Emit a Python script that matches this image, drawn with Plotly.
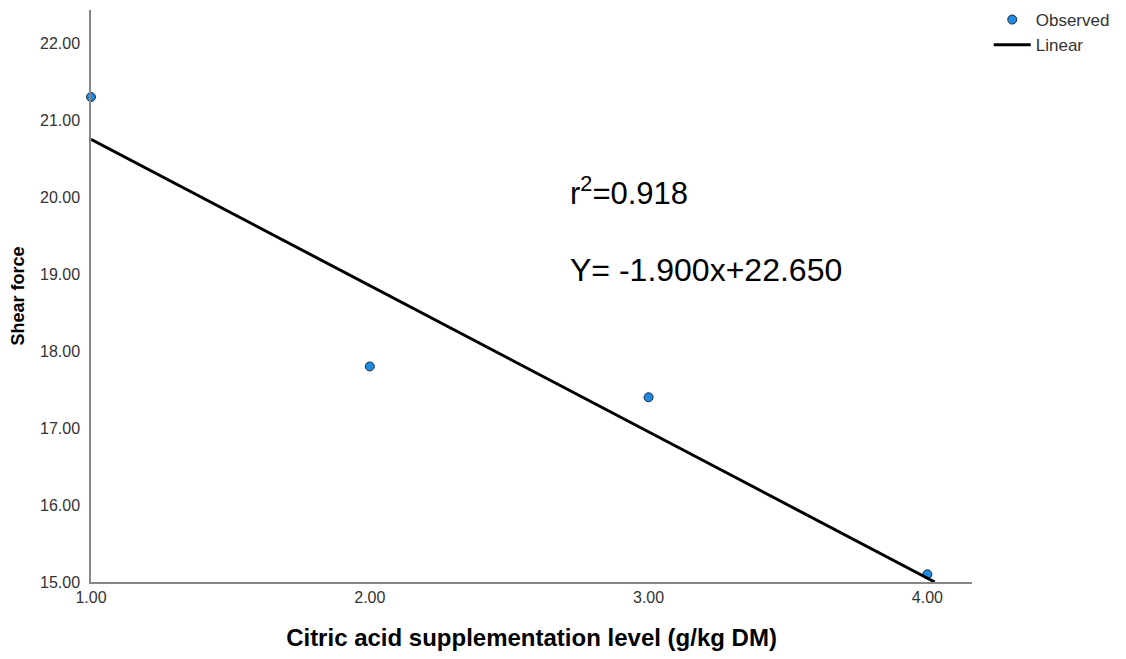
import plotly.graph_objects as go

x_level = [1.0, 2.0, 3.0, 4.0]
shear_force = [21.3, 17.8, 17.4, 15.1]
slope = -1.900
intercept = 22.650
x_ticks = [1, 2, 3, 4]
x_tick_labels = ["1.00", "2.00", "3.00", "4.00"]
y_ticks = [15, 16, 17, 18, 19, 20, 21, 22]
y_tick_labels = ["15.00", "16.00", "17.00", "18.00", "19.00", "20.00", "21.00", "22.00"]

y_min = 15.0
line_x = [1.0, (y_min - intercept) / slope]
line_y = [slope * v + intercept for v in line_x]

font_family = "Liberation Sans, Arial, sans-serif"

fig = go.Figure()
fig.add_trace(go.Scatter(
    x=x_level, y=shear_force, mode="markers", name="Observed",
    marker=dict(size=9, color="#1f8be0", line=dict(color="#1a2a40", width=1)),
    cliponaxis=False,
))
fig.add_trace(go.Scatter(
    x=line_x, y=line_y, mode="lines", name="Linear",
    line=dict(color="black", width=3),
))

fig.add_annotation(x=0.541, y=0.683, xref="paper", yref="paper",
                   xanchor="left", yanchor="middle", showarrow=False,
                   text="r<sup>2</sup>=0.918",
                   font=dict(size=31, color="black", family=font_family))
fig.add_annotation(x=0.541, y=0.545, xref="paper", yref="paper",
                   xanchor="left", yanchor="middle", showarrow=False,
                   text="Y= -1.900x+22.650",
                   font=dict(size=32, color="black", family=font_family))

fig.update_layout(
    width=1118, height=651,
    margin=dict(l=83, r=154, t=2, b=77, autoexpand=False),
    paper_bgcolor="white", plot_bgcolor="white",
    font=dict(family=font_family, color="#333333", size=16),
    showlegend=True,
    legend=dict(x=1.019, y=1.014, xanchor="left", yanchor="top",
                font=dict(size=17, color="#333333"), tracegroupgap=0,
                bgcolor="rgba(0,0,0,0)", itemwidth=37),
    xaxis=dict(range=[1.0, 4.16], tickvals=x_ticks, ticktext=x_tick_labels,
               showgrid=False, zeroline=False, showline=True, automargin=False,
               linecolor="#888888", linewidth=1.5, ticks="", ticklabelstandoff=0,
               tickfont=dict(size=16, color="#333333"),
               title=dict(text="<b>Citric acid supplementation level (g/kg DM)</b>",
                          font=dict(size=24, color="black"), standoff=24)),
    yaxis=dict(range=[15.0, 22.43], tickvals=y_ticks, ticktext=y_tick_labels,
               showgrid=False, zeroline=False, showline=True, automargin=False,
               linecolor="#888888", linewidth=1.5, ticks="", ticklabelstandoff=6,
               tickfont=dict(size=16, color="#333333"),
               title=dict(text="<b>Shear force</b>",
                          font=dict(size=18, color="black"), standoff=14)),
)

fig.write_html("out.html")
